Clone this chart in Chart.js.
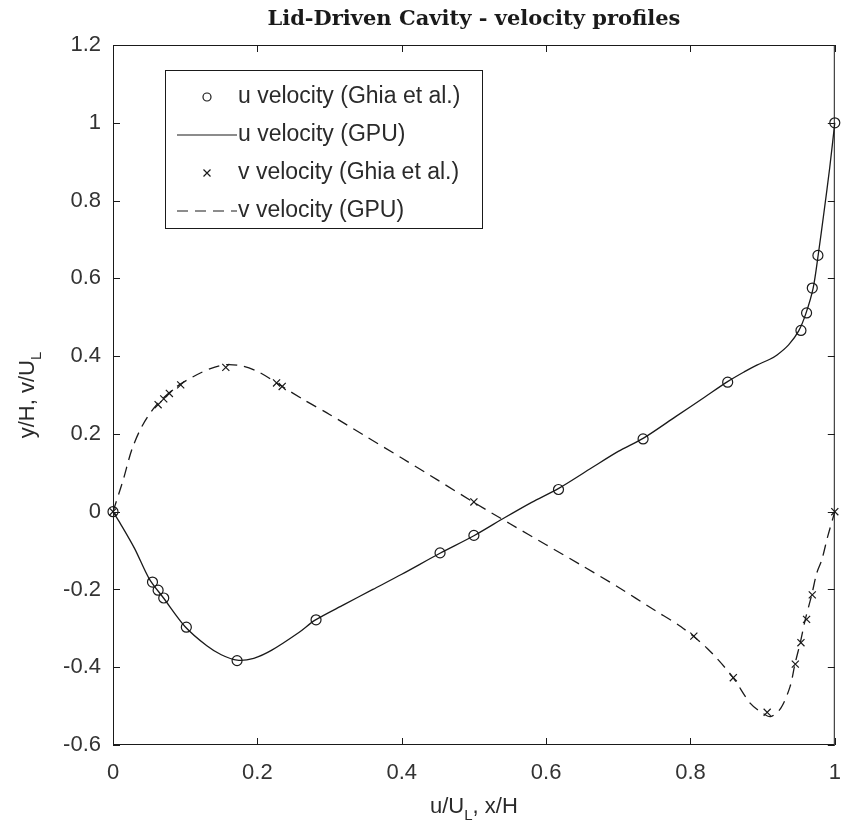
<!DOCTYPE html>
<html>
<head>
<meta charset="utf-8">
<script src="https://cdn.jsdelivr.net/npm/chart.js@4"></script>
<style>
  html, body { margin: 0; padding: 0; background: #fff; }
  #wrap { width: 841px; height: 834px; }
</style>
</head>
<body>
<div id="wrap"><canvas id="chart" width="841" height="834"></canvas></div>
<script>
// ---- Data ----
const uGhiaPos = [0, 0.0547, 0.0625, 0.0703, 0.1016, 0.1719, 0.2813, 0.4531, 0.5, 0.6172, 0.7344, 0.8516, 0.9531, 0.9609, 0.9688, 0.9766, 1];
const uGhiaVal = [0, -0.181, -0.202, -0.222, -0.297, -0.383, -0.278, -0.106, -0.061, 0.057, 0.187, 0.333, 0.466, 0.511, 0.575, 0.659, 1];

const uGpuPos = [0, 0.01, 0.03, 0.05, 0.07, 0.1, 0.13, 0.15, 0.172, 0.195, 0.22, 0.258, 0.28, 0.32, 0.36, 0.4, 0.453, 0.5, 0.543, 0.58, 0.6175, 0.66, 0.7, 0.735, 0.78, 0.82, 0.852, 0.875, 0.892, 0.91, 0.92, 0.936, 0.95, 0.96, 0.97, 0.977, 0.985, 0.993, 1];
const uGpuVal = [0, -0.03, -0.095, -0.172, -0.222, -0.296, -0.345, -0.368, -0.382, -0.377, -0.356, -0.31, -0.279, -0.239, -0.2, -0.161, -0.107, -0.062, -0.015, 0.024, 0.06, 0.109, 0.155, 0.189, 0.245, 0.295, 0.335, 0.36, 0.377, 0.392, 0.403, 0.429, 0.465, 0.51, 0.575, 0.66, 0.77, 0.885, 1];

const vGhiaPos = [0, 0.0625, 0.0703, 0.0781, 0.0938, 0.1563, 0.2266, 0.2344, 0.5, 0.8047, 0.8594, 0.9063, 0.9453, 0.9531, 0.9609, 0.9688, 1];
const vGhiaVal = [0, 0.275, 0.29, 0.304, 0.326, 0.371, 0.331, 0.322, 0.025, -0.32, -0.427, -0.516, -0.392, -0.337, -0.277, -0.214, 0];

const vGpuPos = [0, 0.014, 0.026, 0.04, 0.06, 0.088, 0.111, 0.135, 0.157, 0.18, 0.203, 0.23, 0.265, 0.3, 0.35, 0.4, 0.45, 0.5016, 0.55, 0.6, 0.65, 0.699, 0.75, 0.787, 0.823, 0.858, 0.883, 0.9, 0.911, 0.925, 0.938, 0.945, 0.952, 0.959, 0.968, 0.975, 0.982, 0.99, 1];
const vGpuVal = [0, 0.081, 0.159, 0.219, 0.274, 0.321, 0.347, 0.368, 0.378, 0.374, 0.358, 0.327, 0.287, 0.25, 0.194, 0.138, 0.081, 0.022, -0.031, -0.085, -0.139, -0.193, -0.253, -0.296, -0.351, -0.424, -0.493, -0.518, -0.527, -0.506, -0.45, -0.39, -0.338, -0.278, -0.214, -0.158, -0.124, -0.065, 0];

const xTicks = [0, 0.2, 0.4, 0.6, 0.8, 1];
const yTicks = [-0.6, -0.4, -0.2, 0, 0.2, 0.4, 0.6, 0.8, 1, 1.2];

const seriesNames = ["u velocity (Ghia et al.)", "u velocity (GPU)", "v velocity (Ghia et al.)", "v velocity (GPU)"];
const titleText = "Lid-Driven Cavity - velocity profiles";

// ---- Styling ----
const INK = "#1a1a1a";
const LABEL_FONT = "Liberation Sans, Arial, sans-serif";
const DASH = [11, 7];

function zip(xs, ys) {
  return xs.map((x, i) => ({ x, y: ys[i] }));
}

// Frame, inward ticks, title, axis titles and legend (MATLAB look)
const matlabDecor = {
  id: "matlabDecor",
  afterDraw(chart) {
    const { ctx, chartArea: a, scales } = chart;
    const xs = scales.x, ys = scales.y;
    ctx.save();

    // box
    ctx.strokeStyle = INK;
    ctx.lineWidth = 1;
    ctx.strokeRect(a.left + 0.5, a.top + 0.5, a.right - a.left - 1, a.bottom - a.top - 1);

    // inward ticks on all four sides
    const tl = 7;
    ctx.beginPath();
    xTicks.forEach((v) => {
      const px = Math.round(xs.getPixelForValue(v)) + 0.5;
      ctx.moveTo(px, a.bottom); ctx.lineTo(px, a.bottom - tl);
      ctx.moveTo(px, a.top); ctx.lineTo(px, a.top + tl);
    });
    yTicks.forEach((v) => {
      const py = Math.round(ys.getPixelForValue(v)) + 0.5;
      ctx.moveTo(a.left, py); ctx.lineTo(a.left + tl, py);
      ctx.moveTo(a.right, py); ctx.lineTo(a.right - tl, py);
    });
    ctx.stroke();

    // title
    const cx = (a.left + a.right) / 2;
    ctx.fillStyle = INK;
    ctx.font = "bold 21px 'DejaVu Serif', serif";
    ctx.textAlign = "center";
    ctx.textBaseline = "middle";
    ctx.fillText(titleText, cx, 20);

    // axis titles with subscript L
    drawSubLabel(ctx, "u/U", "L", ", x/H", cx, 807, 0);
    drawSubLabel(ctx, "y/H, v/U", "L", "", 28, (a.top + a.bottom) / 2, -Math.PI / 2);

    // legend
    const L = { x: 165, y: 70, w: 317, h: 158 };
    ctx.fillStyle = "#fff";
    ctx.fillRect(L.x, L.y, L.w, L.h);
    ctx.strokeStyle = INK;
    ctx.lineWidth = 1;
    ctx.strokeRect(L.x + 0.5, L.y + 0.5, L.w, L.h);
    const rows = [97, 135, 173, 211];
    const sx0 = 177, sx1 = 237, mx = 207;
    chart.data.datasets.forEach((ds, i) => {
      const ry = rows[i];
      ctx.strokeStyle = INK;
      ctx.lineWidth = 1.2;
      if (ds.showLine) {
        ctx.setLineDash(ds.borderDash || []);
        ctx.beginPath();
        ctx.moveTo(sx0, ry); ctx.lineTo(sx1, ry);
        ctx.stroke();
        ctx.setLineDash([]);
      } else if (ds.pointStyle === "circle") {
        ctx.beginPath();
        ctx.arc(mx, ry, 4, 0, Math.PI * 2);
        ctx.stroke();
      } else {
        ctx.beginPath();
        ctx.moveTo(mx - 3.5, ry - 3.5); ctx.lineTo(mx + 3.5, ry + 3.5);
        ctx.moveTo(mx + 3.5, ry - 3.5); ctx.lineTo(mx - 3.5, ry + 3.5);
        ctx.stroke();
      }
      ctx.fillStyle = "#2a2a2a";
      ctx.font = "23px " + LABEL_FONT;
      ctx.textAlign = "left";
      ctx.textBaseline = "middle";
      ctx.fillText(ds.label, 238, ry);
    });

    ctx.restore();
  },
};

function drawSubLabel(ctx, main, sub, tail, x, y, rot) {
  ctx.save();
  ctx.translate(x, y);
  ctx.rotate(rot);
  ctx.fillStyle = "#2a2a2a";
  ctx.textBaseline = "middle";
  ctx.textAlign = "left";
  const big = "22px " + LABEL_FONT, small = "15px " + LABEL_FONT;
  ctx.font = big;
  const w1 = ctx.measureText(main).width;
  const w3 = ctx.measureText(tail).width;
  ctx.font = small;
  const w2 = ctx.measureText(sub).width;
  let cx = -(w1 + w2 + w3) / 2;
  ctx.font = big;
  ctx.fillText(main, cx, 0);
  cx += w1;
  ctx.font = small;
  ctx.fillText(sub, cx, 9);
  cx += w2;
  ctx.font = big;
  ctx.fillText(tail, cx, 0);
  ctx.restore();
}

new Chart(document.getElementById("chart"), {
  type: "scatter",
  data: {
    datasets: [
      {
        label: seriesNames[0],
        data: zip(uGhiaPos, uGhiaVal),
        showLine: false,
        pointStyle: "circle",
        pointRadius: 5,
        pointBorderWidth: 1.2,
        pointBorderColor: INK,
        pointBackgroundColor: "rgba(0,0,0,0)",
      },
      {
        label: seriesNames[1],
        data: zip(uGpuPos, uGpuVal),
        showLine: true,
        borderColor: INK,
        borderWidth: 1.3,
        pointRadius: 0,
        tension: 0.3,
      },
      {
        label: seriesNames[2],
        data: zip(vGhiaPos, vGhiaVal),
        showLine: false,
        pointStyle: "crossRot",
        pointRadius: 5,
        pointBorderWidth: 1.2,
        pointBorderColor: INK,
      },
      {
        label: seriesNames[3],
        data: zip(vGpuPos, vGpuVal),
        showLine: true,
        borderColor: INK,
        borderWidth: 1.3,
        borderDash: DASH,
        pointRadius: 0,
        tension: 0.3,
      },
    ],
  },
  options: {
    responsive: false,
    animation: false,
    clip: false,
    layout: { padding: { top: 45, right: -3, left: 0, bottom: 0 } },
    plugins: { legend: { display: false }, title: { display: false }, tooltip: { enabled: false } },
    scales: {
      x: {
        type: "linear",
        min: 0,
        max: 1,
        afterBuildTicks: (s) => { s.ticks = xTicks.map((v) => ({ value: v })); },
        afterFit: (s) => { s.height = 89; s.paddingLeft = 0; s.paddingRight = 0; },
        grid: { display: false, drawTicks: false },
        border: { display: false },
        ticks: {
          padding: 15,
          color: "#333",
          font: { family: LABEL_FONT, size: 22 },
          callback: (v) => String(Math.round(v * 10) / 10),
        },
      },
      y: {
        type: "linear",
        min: -0.6,
        max: 1.2,
        afterBuildTicks: (s) => { s.ticks = yTicks.map((v) => ({ value: v })); },
        afterFit: (s) => { s.width = 113; s.paddingTop = 0; s.paddingBottom = 0; },
        grid: { display: false, drawTicks: false },
        border: { display: false },
        ticks: {
          padding: 12,
          color: "#333",
          font: { family: LABEL_FONT, size: 22 },
          callback: (v) => String(Math.round(v * 10) / 10),
        },
      },
    },
  },
  plugins: [matlabDecor],
});
</script>
</body>
</html>
